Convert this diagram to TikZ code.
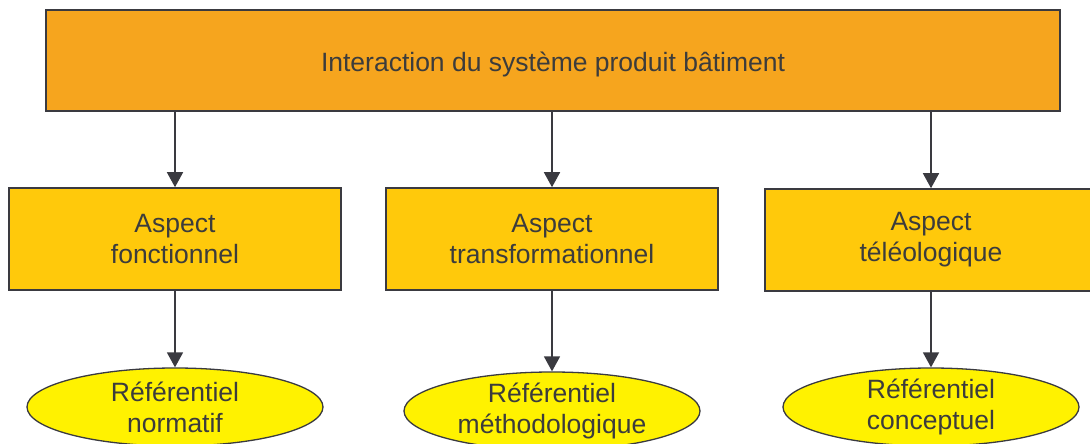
\documentclass[tikz,border=0pt]{standalone}
\usepackage{fontspec}
\setmainfont{Liberation Sans}
\usetikzlibrary{arrows.meta,shapes.geometric}
\definecolor{topfill}{HTML}{F6A51E}
\definecolor{aspfill}{HTML}{FFC90B}
\definecolor{elfill}{HTML}{FFF200}
\definecolor{edge}{HTML}{3A3A40}
\definecolor{txt}{HTML}{3C3C3C}
\tikzset{
  every node/.style={font=\fontsize{26.5}{31}\selectfont, text=txt},
  topbox/.style={draw=edge, line width=1.6pt, fill=topfill, minimum width=1014pt, minimum height=101pt, inner sep=0pt},
  aspbox/.style={draw=edge, line width=1.6pt, fill=aspfill, minimum width=332pt, minimum height=102pt, inner sep=0pt, align=center},
  refell/.style={ellipse, draw=edge, line width=1.3pt, fill=elfill, minimum width=296pt, minimum height=78pt, inner sep=0pt},
  conn/.style={draw=edge, line width=1.6pt, -{Triangle[width=16pt,length=15pt]}}
}
\begin{document}
\begin{tikzpicture}[x=1pt,y=-1pt]
\useasboundingbox[fill=white] (0,0) rectangle (1090,444);
\node[topbox, label={[yshift=-4pt]center:Interaction du système produit bâtiment}] (top) at (553,60.5) {};
\node[aspbox] (a1) at (175,239) {Aspect\\fonctionnel};
\node[aspbox] (a2) at (552,239) {Aspect\\transformationnel};
\node[aspbox] (a3) at (931,240) {Aspect\\téléologique};
\node[refell, label={[align=center]center:Référentiel\\normatif}] (e1) at (175,407) {};
\node[refell, label={[align=center]center:Référentiel\\méthodologique}] (e2) at (552,411) {};
\node[refell, label={[align=center]center:Référentiel\\conceptuel}] (e3) at (931,407) {};
\draw[conn] (a1.north |- top.south) -- (a1.north);
\draw[conn] (a2.north |- top.south) -- (a2.north);
\draw[conn] (a3.north |- top.south) -- (a3.north);
\draw[conn] (a1.south) -- (e1.north);
\draw[conn] (a2.south) -- (e2.north);
\draw[conn] (a3.south) -- (e3.north);
\end{tikzpicture}
\end{document}
